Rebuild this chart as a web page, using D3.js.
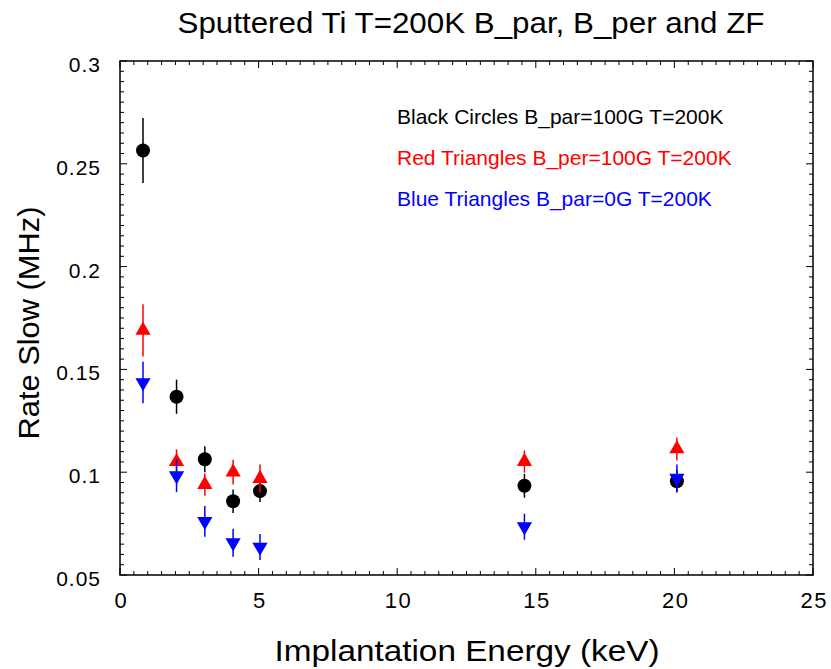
<!DOCTYPE html>
<html>
<head>
<meta charset="utf-8">
<script src="https://cdn.jsdelivr.net/npm/d3@7"></script>
<style>
  html, body { margin: 0; padding: 0; background: #fff; }
  svg { display: block; }
  text { font-family: "Liberation Sans", Arial, Helvetica, sans-serif; }
</style>
</head>
<body>
<svg id="chart" width="831" height="669"></svg>
<script>
// ---- data ----
const energies = [0.83, 2.04, 3.06, 4.08, 5.05, 14.59, 20.09];
const blackRate = [0.2565, 0.1367, 0.1063, 0.0859, 0.0908, 0.0934, 0.0956];
const blackErr  = [0.0158, 0.0083, 0.0063, 0.0057, 0.0053, 0.0058, 0.0055];
const redRate   = [0.1690, 0.1051, 0.0940, 0.1000, 0.0969, 0.1052, 0.1113];
const redErr    = [0.0127, 0.0060, 0.0054, 0.0060, 0.0068, 0.0054, 0.0056];
const blueRate  = [0.1436, 0.0983, 0.0761, 0.0657, 0.0636, 0.0735, 0.0971];
const blueErr   = [0.0101, 0.0080, 0.0075, 0.0068, 0.0063, 0.0063, 0.0066];
const xTicks = [0, 5, 10, 15, 20, 25];
const yTicks = [0.05, 0.1, 0.15, 0.2, 0.25, 0.3];
const legendLabels = [
  "Black Circles B_par=100G T=200K",
  "Red Triangles B_per=100G T=200K",
  "Blue Triangles B_par=0G T=200K"
];
const legendColors = ["#000000", "#ff0000", "#0000ff"];

const svg = d3.select("#chart");
const mLeft = 120, mRight = 813, mTop = 61, mBottom = 575;

const x = d3.scaleLinear().domain([0, 25]).range([mLeft, mRight]);
const y = d3.scaleLinear().domain([0.05, 0.3]).range([mBottom, mTop]);

// frame
svg.append("rect")
  .attr("x", mLeft).attr("y", mTop)
  .attr("width", mRight - mLeft).attr("height", mBottom - mTop)
  .attr("fill", "none").attr("stroke", "#000").attr("stroke-width", 1.5);

// ticks (inside)
const xMinor = d3.range(0, 25.001, 0.5);
const yMinor = d3.range(0.05, 0.3001, 0.005);
function isMajorX(v) { return Math.abs(v / 5 - Math.round(v / 5)) < 1e-6; }
function isMajorY(v) { return Math.abs(v / 0.05 - Math.round(v / 0.05)) < 1e-6; }

const tg = svg.append("g").attr("stroke", "#000").attr("stroke-width", 1);
xMinor.forEach(v => {
  const L = isMajorX(v) ? 7 : 4;
  tg.append("line").attr("x1", x(v)).attr("x2", x(v)).attr("y1", mBottom).attr("y2", mBottom - L);
  tg.append("line").attr("x1", x(v)).attr("x2", x(v)).attr("y1", mTop).attr("y2", mTop + L);
});
yMinor.forEach(v => {
  const L = isMajorY(v) ? 7 : 4;
  tg.append("line").attr("y1", y(v)).attr("y2", y(v)).attr("x1", mLeft).attr("x2", mLeft + L);
  tg.append("line").attr("y1", y(v)).attr("y2", y(v)).attr("x1", mRight).attr("x2", mRight - L);
});

// tick labels via axes (no lines)
const xAxis = d3.axisBottom(x).tickValues(xTicks).tickFormat(d3.format("d")).tickSize(0).tickPadding(17);
const gx = svg.append("g").attr("transform", `translate(0,${mBottom})`).call(xAxis);
gx.select(".domain").remove();
gx.selectAll("text").attr("font-size", 22).attr("fill", "#000")
  .style("font-family", '"Liberation Sans", Arial, sans-serif').attr("letter-spacing", 1.5)
  .attr("dx", 0.75);

const yAxis = d3.axisLeft(y).tickValues(yTicks).tickFormat(d => String(+d.toFixed(2))).tickSize(0).tickPadding(19);
const gy = svg.append("g").attr("transform", `translate(${mLeft},0)`).call(yAxis);
gy.select(".domain").remove();
gy.selectAll("text").attr("font-size", 21).attr("fill", "#000")
  .style("font-family", '"Liberation Sans", Arial, sans-serif').attr("letter-spacing", 1)
  .attr("dy", "0.5em");

// series
const series = [
  { rate: blackRate, err: blackErr, color: "#000000", shape: "circle" },
  { rate: redRate,   err: redErr,   color: "#ff0000", shape: "up" },
  { rate: blueRate,  err: blueErr,  color: "#0000ff", shape: "down" }
];
const circleSym = d3.symbol().type(d3.symbolCircle).size(Math.PI * 7 * 7);
const triSym = d3.symbol().type(d3.symbolTriangle).size(100);

series.forEach(s => {
  const g = svg.append("g");
  energies.forEach((e, i) => {
    g.append("line")
      .attr("x1", x(e)).attr("x2", x(e))
      .attr("y1", y(s.rate[i] - s.err[i])).attr("y2", y(s.rate[i] + s.err[i]))
      .attr("stroke", s.color).attr("stroke-width", 1.5);
  });
  energies.forEach((e, i) => {
    const p = g.append("path").attr("fill", s.color);
    if (s.shape === "circle") {
      p.attr("d", circleSym()).attr("transform", `translate(${x(e)},${y(s.rate[i])})`);
    } else if (s.shape === "up") {
      p.attr("d", triSym()).attr("transform", `translate(${x(e)},${y(s.rate[i])})`);
    } else {
      p.attr("d", triSym()).attr("transform", `translate(${x(e)},${y(s.rate[i])}) rotate(180)`);
    }
  });
});

// legend texts
legendLabels.forEach((t, i) => {
  svg.append("text")
    .attr("x", 397).attr("y", 124 + i * 41)
    .attr("font-size", 21).attr("fill", legendColors[i])
    .text(t);
});

// title
svg.append("text")
  .attr("x", 471).attr("y", 33)
  .attr("text-anchor", "middle").attr("font-size", 30)
  .attr("textLength", 587).attr("lengthAdjust", "spacingAndGlyphs")
  .text("Sputtered Ti T=200K B_par, B_per and ZF");

// axis titles
svg.append("text")
  .attr("x", 467).attr("y", 661)
  .attr("text-anchor", "middle").attr("font-size", 30)
  .attr("textLength", 385).attr("lengthAdjust", "spacingAndGlyphs")
  .text("Implantation Energy (keV)");

svg.append("text")
  .attr("transform", "translate(39,323) rotate(-90)")
  .attr("text-anchor", "middle").attr("font-size", 30)
  .attr("textLength", 233).attr("lengthAdjust", "spacingAndGlyphs")
  .text("Rate Slow (MHz)");
</script>
</body>
</html>
